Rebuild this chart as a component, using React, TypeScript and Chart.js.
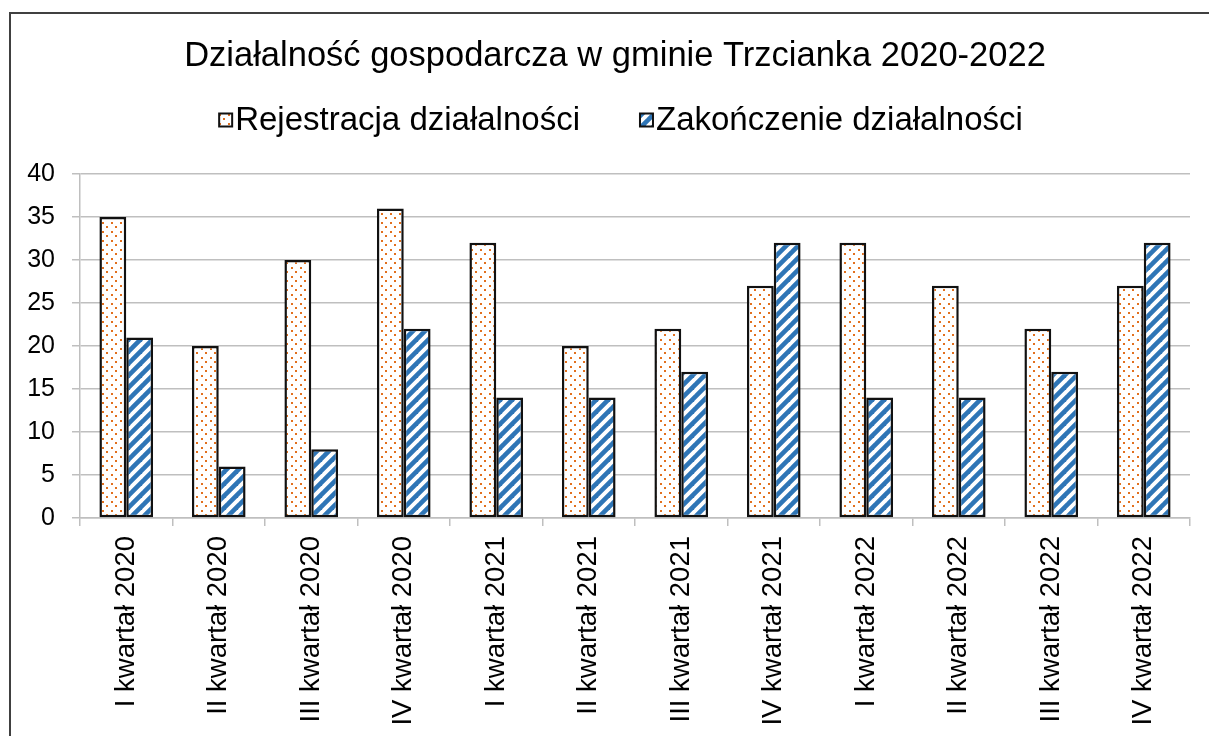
import React, { useEffect, useRef } from "react";
import { Chart, registerables } from "chart.js";

Chart.register(...registerables);

const FONT = '"Liberation Sans", Arial, sans-serif';

const titleText = "Działalność gospodarcza w gminie Trzcianka 2020-2022";
const seriesNames = ["Rejestracja działalności", "Zakończenie działalności"];
const categories = [
  "I kwartał 2020",
  "II kwartał 2020",
  "III kwartał 2020",
  "IV kwartał 2020",
  "I kwartał 2021",
  "II kwartał 2021",
  "III kwartał 2021",
  "IV kwartał 2021",
  "I kwartał 2022",
  "II kwartał 2022",
  "III kwartał 2022",
  "IV kwartał 2022",
];
const rejestracja = [35, 20, 30, 36, 32, 20, 22, 27, 32, 27, 22, 27];
const zakonczenie = [21, 6, 8, 22, 14, 14, 17, 32, 14, 14, 17, 32];
const yTicks = [0, 5, 10, 15, 20, 25, 30, 35, 40];

const CANVAS_W = 1210;
const CANVAS_H = 723;

function makeDots(): CanvasPattern | string {
  const c = document.createElement("canvas");
  c.width = 9;
  c.height = 9;
  const g = c.getContext("2d");
  if (!g) return "#fff";
  g.fillStyle = "#ffffff";
  g.fillRect(0, 0, 9, 9);
  g.fillStyle = "#E2701E";
  g.fillRect(2, 1, 2, 2);
  g.fillRect(6, 5, 2, 2);
  const p = g.createPattern(c, "repeat");
  return p || "#fff";
}

function makeStripes(): CanvasPattern | string {
  const s = 12;
  const c = document.createElement("canvas");
  c.width = s;
  c.height = s;
  const g = c.getContext("2d");
  if (!g) return "#2E75B6";
  g.fillStyle = "#ffffff";
  g.fillRect(0, 0, s, s);
  g.strokeStyle = "#2E75B6";
  g.lineWidth = 4.6;
  g.lineCap = "square";
  for (const k of [0, s, 2 * s]) {
    g.beginPath();
    g.moveTo(k - s - 2, s + 2);
    g.lineTo(k + 2, -2);
    g.stroke();
  }
  const p = g.createPattern(c, "repeat");
  return p || "#2E75B6";
}

const headerPlugin = {
  id: "header",
  afterDraw(chart: any) {
    const ctx = chart.ctx as CanvasRenderingContext2D;
    ctx.save();
    ctx.fillStyle = "#000";
    ctx.textAlign = "center";
    ctx.textBaseline = "middle";
    ctx.font = `34.5px ${FONT}`;
    ctx.fillText(titleText, chart.width / 2, 42);

    ctx.font = `33px ${FONT}`;
    const box = 13;
    const gap = 3;
    const itemGap = 60;
    const widths = seriesNames.map((n) => ctx.measureText(n).width);
    const total =
      widths.reduce((a, w) => a + box + gap + w, 0) + itemGap * (seriesNames.length - 1);
    let x = chart.width / 2 - total / 2 + 6;
    const y = 106;
    chart.data.datasets.forEach((ds: any, i: number) => {
      ctx.fillStyle = ds.backgroundColor;
      ctx.fillRect(x, y - box / 2, box, box);
      ctx.lineWidth = 2;
      ctx.strokeStyle = "#111";
      ctx.strokeRect(x, y - box / 2, box, box);
      ctx.fillStyle = "#000";
      ctx.textAlign = "left";
      ctx.fillText(seriesNames[i], x + box + gap, y + 1);
      x += box + gap + widths[i] + itemGap;
    });
    ctx.restore();
  },
};

export default function App() {
  const ref = useRef<HTMLCanvasElement | null>(null);

  useEffect(() => {
    if (!ref.current) return;
    const dots = makeDots();
    const stripes = makeStripes();
    const chart = new Chart(ref.current, {
      type: "bar",
      data: {
        labels: categories,
        datasets: [
          {
            label: seriesNames[0],
            data: rejestracja,
            backgroundColor: dots as any,
            borderColor: "#111",
            borderWidth: 2.5,
            borderSkipped: false,
            categoryPercentage: 0.58,
            barPercentage: 1,
          },
          {
            label: seriesNames[1],
            data: zakonczenie,
            backgroundColor: stripes as any,
            borderColor: "#111",
            borderWidth: 2.5,
            borderSkipped: false,
            categoryPercentage: 0.58,
            barPercentage: 1,
          },
        ],
      },
      options: {
        animation: false,
        responsive: false,
        devicePixelRatio: 1,
        layout: { padding: { top: 160, right: 30, left: 0, bottom: 0 } },
        plugins: {
          legend: { display: false },
          title: { display: false },
          tooltip: { enabled: false },
        },
        font: { family: FONT },
        scales: {
          x: {
            grid: {
              drawOnChartArea: false,
              drawTicks: true,
              tickLength: 8,
              color: "#bfbfbf",
              lineWidth: 1.5,
            },
            border: { color: "#bfbfbf", width: 1.5 },
            ticks: {
              color: "#000",
              font: { size: 27.5, family: FONT },
              minRotation: 90,
              maxRotation: 90,
              padding: 10,
              autoSkip: false,
            },
            afterFit: (s: any) => {
              s.height = 219;
            },
          },
          y: {
            min: 0,
            max: 40,
            afterBuildTicks: (axis: any) => {
              axis.ticks = yTicks.map((v) => ({ value: v }));
            },
            ticks: {
              color: "#000",
              font: { size: 25, family: FONT },
              padding: 17,
            },
            grid: { color: "#bfbfbf", lineWidth: 1.5, tickLength: 8 },
            border: { color: "#bfbfbf", width: 1.5 },
            afterFit: (s: any) => {
              s.width = 70;
            },
          },
        },
      } as any,
      plugins: [headerPlugin],
    });
    return () => chart.destroy();
  }, []);

  return (
    <div
      style={{
        position: "fixed",
        left: 0,
        top: 0,
        width: 1209,
        height: 736,
        overflow: "hidden",
        background: "#fff",
      }}
    >
      <div
        style={{
          position: "absolute",
          left: 9,
          top: 12,
          width: 1300,
          height: 800,
          border: "2px solid #404040",
          boxSizing: "border-box",
        }}
      />
      <canvas
        ref={ref}
        width={CANVAS_W}
        height={CANVAS_H}
        style={{
          position: "absolute",
          left: 10,
          top: 14,
          width: CANVAS_W,
          height: CANVAS_H,
        }}
      />
    </div>
  );
}
